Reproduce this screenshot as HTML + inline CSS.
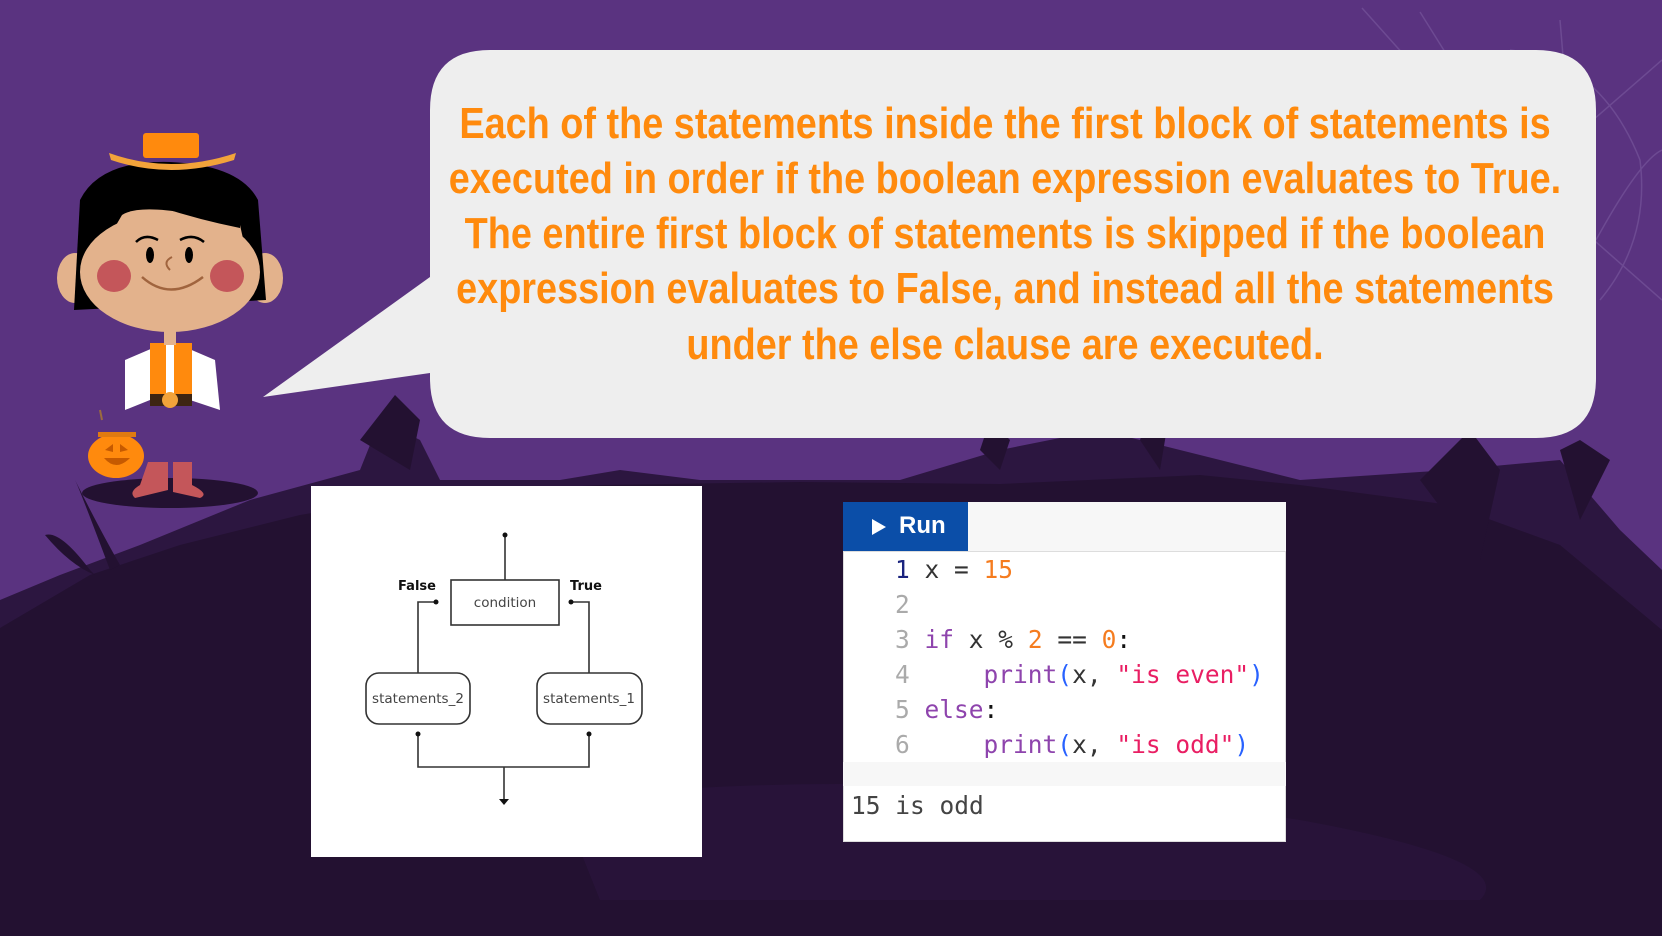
<!DOCTYPE html>
<html><head><meta charset="utf-8"><style>
*{margin:0;padding:0;box-sizing:border-box}
body{width:1662px;height:936px;overflow:hidden;background:#5a3380;position:relative;font-family:"Liberation Sans",sans-serif}
.abs{position:absolute}
.bt{position:absolute;left:205px;width:1600px;text-align:center;color:#ff8a0d;font-family:"Liberation Sans",sans-serif;font-weight:bold;font-size:44px;line-height:55px;white-space:nowrap;transform:scaleX(0.86);transform-origin:center}
.code{position:absolute;font-family:"DejaVu Sans Mono","Liberation Mono",monospace;font-size:24.5px;line-height:35px;white-space:pre}
.ln{color:#aaa}
</style></head><body>
<svg class="abs" style="left:0;top:0" width="1662" height="936" viewBox="0 0 1662 936">
  <g stroke="#6d4a92" stroke-width="1.5" fill="none">
    <path d="M1362 8 L1480 140 L1662 300"/><path d="M1420 12 L1500 140 L1530 330"/><path d="M1560 20 L1570 140 L1662 60"/>
    <path d="M1510 50 Q1600 60 1640 160 Q1650 240 1600 300"/><path d="M1596 240 Q1640 160 1662 150"/>
  </g>
  <path fill="#2c1640" d="M0 600 L60 575 L140 545 L250 500 L360 470 L380 420 L420 440 L440 480 L560 480 L620 470 L700 480 L900 480 L1000 450 L1100 430 L1180 450 L1300 480 L1450 470 L1560 460 L1620 530 L1662 570 L1662 936 L0 936Z"/>
  <path fill="#231131" d="M0 628 L90 575 L180 545 L300 515 L420 495 L600 485 L800 482 L1000 484 L1200 475 L1300 485 L1450 505 L1560 545 L1662 630 L1662 936 L0 936Z"/>
  <g fill="#231131">
    <path d="M360 440 L395 395 L420 420 L410 470Z"/>
    <path d="M90 570 Q60 530 45 535 Q70 565 95 575Z"/>
    <path d="M110 570 Q80 490 75 480 Q100 530 120 565Z"/>
    <path d="M1420 480 L1470 430 L1500 470 L1480 560Z"/>
    <path d="M1560 450 L1580 440 L1610 460 L1580 520Z"/>
    <path d="M1140 440 L1150 410 L1170 410 L1160 470Z"/>
    <path d="M980 450 L990 420 L1010 440 L1000 470Z"/>
  </g>
  <path fill="#2b1540" d="M560 800 Q900 760 1300 820 Q1520 860 1480 900 L600 900Z" opacity=".6"/>
  <path fill="#eeeeee" d="M490 50 L1536 50 Q1596 50 1596 110 L1596 378 Q1596 438 1536 438 L490 438 Q430 438 430 378 L430 373 L263 397 L430 277 L430 110 Q430 50 490 50Z"/>
  <ellipse cx="170" cy="493" rx="88" ry="15" fill="#231131"/>
  <path d="M148 462 L168 462 L168 490 L135 498 Q128 492 140 485Z" fill="#c4565a"/>
  <path d="M173 462 L192 462 L192 485 Q210 494 200 498 L173 492Z" fill="#c4565a"/>
  <path d="M102 420 L100 410" stroke="#9b6b3d" stroke-width="2"/>
  <ellipse cx="116" cy="456" rx="28" ry="22" fill="#ff8a0d"/>
  <rect x="98" y="432" width="38" height="5" fill="#e07a10"/>
  <path d="M105 450 L113 444 L113 452Z M120 444 L128 450 L120 452Z M104 458 Q116 472 130 458Z" fill="#c65a00"/>
  <path d="M125 360 L160 345 L150 400 L125 410Z" fill="#fff"/>
  <path d="M215 360 L180 345 L190 400 L220 410Z" fill="#fff"/>
  <path d="M150 343 L192 343 L192 398 L150 398Z" fill="#ff8a0d"/>
  <rect x="166" y="343" width="8" height="55" fill="#fff"/>
  <rect x="150" y="394" width="42" height="12" fill="#3d2512"/>
  <circle cx="170" cy="400" r="8" fill="#f2a33a"/>
  <rect x="164" y="320" width="12" height="25" fill="#e3b28c"/>
  <ellipse cx="75" cy="278" rx="18" ry="25" fill="#e3b28c"/>
  <ellipse cx="265" cy="278" rx="18" ry="25" fill="#e3b28c"/>
  <path d="M74 310 L80 200 Q100 160 170 162 Q240 165 258 200 L266 300 Z" fill="#000"/>
  <ellipse cx="170" cy="272" rx="90" ry="60" fill="#e3b28c"/>
  <path d="M122 215 Q145 200 240 225 L250 270 L90 270 Z" fill="#e3b28c"/>
  <path d="M120 213 Q140 200 160 207 Q200 220 240 228 L240 205 Q210 190 170 192 Q130 195 120 213Z" fill="#000"/>
  <ellipse cx="114" cy="276" rx="17" ry="16" fill="#c4565a"/>
  <ellipse cx="227" cy="276" rx="17" ry="16" fill="#c4565a"/>
  <ellipse cx="150" cy="255" rx="4" ry="8" fill="#000"/>
  <ellipse cx="189" cy="255" rx="4" ry="8" fill="#000"/>
  <path d="M136 242 Q145 233 158 240 M180 240 Q193 233 204 242" stroke="#000" stroke-width="2.5" fill="none"/>
  <path d="M142 277 Q170 302 203 277" stroke="#a0643e" stroke-width="2.5" fill="none"/>
  <path d="M172 257 Q162 262 170 270" stroke="#a0643e" stroke-width="2" fill="none"/>
  <rect x="143" y="133" width="56" height="25" rx="3" fill="#ff8a0d"/>
  <path d="M109 153 Q170 175 236 153 L234 160 Q170 180 111 160Z" fill="#f2a33a"/>
</svg>

<div class="bt" style="top:96px">Each of the statements inside the first block of statements is</div>
<div class="bt" style="top:151px">executed in order if the boolean expression evaluates to True.</div>
<div class="bt" style="top:206px">The entire first block of statements is skipped if the boolean</div>
<div class="bt" style="top:261px">expression evaluates to False, and instead all the statements</div>
<div class="bt" style="top:317px">under the else clause are executed.</div>

<div class="abs" style="left:311px;top:486px;width:391px;height:371px;background:#fff"></div>
<svg class="abs" style="left:0;top:0" width="1662" height="936">
  <g stroke="#333" stroke-width="1.6" fill="none">
    <line x1="505" y1="535" x2="505" y2="580"/>
    <rect x="451" y="580" width="108" height="45" fill="#fff"/>
    <polyline points="436,602 418,602 418,673"/>
    <polyline points="571,602 589,602 589,673"/>
    <rect x="366" y="673" width="104" height="51" rx="13" fill="#fff"/>
    <rect x="537" y="673" width="105" height="51" rx="13" fill="#fff"/>
    <polyline points="418,734 418,767 589,767 589,734"/>
    <line x1="504" y1="767" x2="504" y2="800"/>
  </g>
  <g fill="#111">
    <circle cx="505" cy="535" r="2.5"/><circle cx="436" cy="602" r="2.5"/><circle cx="571" cy="602" r="2.5"/>
    <circle cx="418" cy="734" r="2.5"/><circle cx="589" cy="734" r="2.5"/>
    <path d="M499 799 L509 799 L504 805Z"/>
  </g>
  <g font-family="DejaVu Sans, Liberation Sans, sans-serif" font-size="13.5" fill="#444">
    <text x="505" y="607" text-anchor="middle">condition</text>
    <text x="418" y="703" text-anchor="middle">statements_2</text>
    <text x="589" y="703" text-anchor="middle">statements_1</text>
  </g>
  <g font-family="DejaVu Sans, Liberation Sans, sans-serif" font-size="13" font-weight="bold" fill="#111">
    <text x="417" y="590" text-anchor="middle">False</text>
    <text x="586" y="590" text-anchor="middle">True</text>
  </g>
</svg>

<div class="abs" style="left:843px;top:502px;width:443px;height:340px;background:#fff;border:1px solid #ddd"></div>
<div class="abs" style="left:843px;top:502px;width:443px;height:50px;background:#f7f7f7;border-bottom:1px solid #ddd"></div>
<div class="abs" style="left:843px;top:502px;width:125px;height:49px;background:#0b4ea8"></div>
<svg class="abs" style="left:871px;top:518px" width="16" height="18"><path d="M1 1 L15 9 L1 17Z" fill="#fff"/></svg>
<div class="abs" style="left:899px;top:510px;color:#fff;font-weight:bold;font-size:24px;line-height:32px">Run</div>
<div class="abs" style="left:843px;top:762px;width:443px;height:24px;background:#f7f7f7"></div>
<div class="code" style="left:895px;top:552px"><span style="color:#1a237e">1</span> <span style="color:#333">x = </span><span style="color:#f57c1f">15</span>
<span class="ln">2</span>
<span class="ln">3</span> <span style="color:#8e44ad">if</span><span style="color:#333"> x % </span><span style="color:#f57c1f">2</span><span style="color:#333"> == </span><span style="color:#f57c1f">0</span><span style="color:#111">:</span>
<span class="ln">4</span>     <span style="color:#8e44ad">print</span><span style="color:#2962ff">(</span><span style="color:#333">x, </span><span style="color:#e91e63">"is even"</span><span style="color:#2962ff">)</span>
<span class="ln">5</span> <span style="color:#8e44ad">else</span><span style="color:#111">:</span>
<span class="ln">6</span>     <span style="color:#8e44ad">print</span><span style="color:#2962ff">(</span><span style="color:#333">x, </span><span style="color:#e91e63">"is odd"</span><span style="color:#2962ff">)</span></div>
<div class="code" style="left:851px;top:788px;color:#444">15 is odd</div>
</body></html>
